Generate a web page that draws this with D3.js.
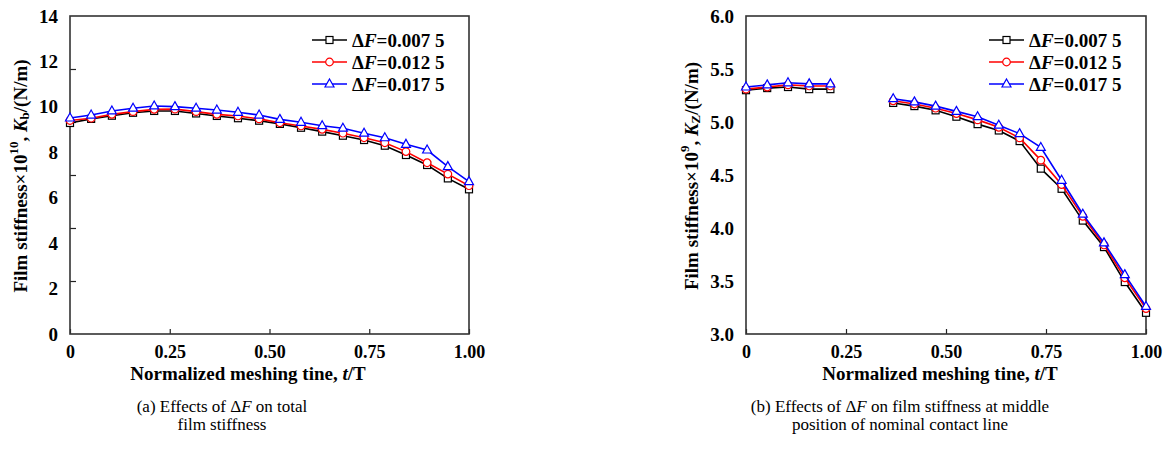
<!DOCTYPE html>
<html>
<head>
<meta charset="utf-8">
<script src="https://cdn.jsdelivr.net/npm/d3@7"></script>
<style>
  body { margin: 0; background: #fff; }
  svg text { font-family: "Liberation Serif", "Times New Roman", serif; }
</style>
</head>
<body>
<svg id="chart" width="1167" height="454"></svg>
<script>
// normalized meshing time t/T (shared by both panels)
const tValues = [0, 0.053, 0.105, 0.158, 0.211, 0.263, 0.316, 0.368, 0.421, 0.474,
                 0.526, 0.579, 0.632, 0.684, 0.737, 0.789, 0.842, 0.895, 0.947, 1.0];

const seriesNames = ["0.007 5", "0.012 5", "0.017 5"];
const seriesColors = ["#000000", "#ff0000", "#0000ff"];
const seriesMarkers = ["square", "circle", "triangle"];

// (a) total film stiffness Kb x 10^10 N/m
const kbDF0075 = [9.29, 9.47, 9.61, 9.74, 9.82, 9.82, 9.71, 9.60, 9.50, 9.39,
                  9.25, 9.08, 8.91, 8.73, 8.54, 8.29, 7.88, 7.44, 6.85, 6.37];
const kbDF0125 = [9.40, 9.50, 9.67, 9.79, 9.89, 9.90, 9.79, 9.67, 9.60, 9.47,
                  9.30, 9.16, 9.01, 8.84, 8.64, 8.42, 8.03, 7.54, 7.04, 6.53];
const kbDF0175 = [9.51, 9.64, 9.82, 9.94, 10.04, 10.01, 9.94, 9.86, 9.76, 9.64,
                  9.45, 9.32, 9.17, 9.06, 8.84, 8.64, 8.35, 8.10, 7.37, 6.71];

// (b) film stiffness at middle of contact line Kz x 10^9 N/m (gap at 0.26-0.32)
const kzDF0075 = [5.30, 5.32, 5.33, 5.31, 5.31, null, null, 5.18, 5.15, 5.11,
                  5.05, 4.98, 4.92, 4.82, 4.56, 4.37, 4.07, 3.82, 3.49, 3.20];
const kzDF0125 = [5.31, 5.33, 5.35, 5.34, 5.34, null, null, 5.20, 5.17, 5.13,
                  5.08, 5.02, 4.95, 4.85, 4.64, 4.41, 4.11, 3.84, 3.53, 3.24];
const kzDF0175 = [5.33, 5.35, 5.37, 5.36, 5.36, null, null, 5.22, 5.19, 5.15,
                  5.10, 5.05, 4.97, 4.89, 4.76, 4.45, 4.13, 3.86, 3.56, 3.26];

const xTickVals = [0, 0.25, 0.5, 0.75, 1.0];
const xTickLabels = ["0", "0.25", "0.50", "0.75", "1.00"];
const kbTickVals = [0, 2, 4, 6, 8, 10, 12, 14];
const kbMarkVals = [2.333, 4.667, 7, 9.333, 11.667];
const kzTickVals = [3.0, 3.5, 4.0, 4.5, 5.0, 5.5, 6.0];

const panels = [
  { left: 70, right: 469, yDomain: [0, 14], yTicks: kbTickVals, yFmt: d3.format("d"),
    yMarks: kbMarkVals, series: [kbDF0075, kbDF0125, kbDF0175],
    exp: "10", sub: "b", titleX: 20, xTitleX: 248,
    legendX: 312, caption: ["(a) Effects of ", " on total", "film stiffness"], captionX: 222 },
  { left: 746, right: 1146, yDomain: [3, 6], yTicks: kzTickVals, yFmt: d3.format(".1f"),
    yMarks: [], series: [kzDF0075, kzDF0125, kzDF0175],
    exp: "9", sub: "Z", titleX: 691, xTitleX: 940,
    legendX: 989, caption: ["(b) Effects of ", " on film stiffness at middle", "position of nominal contact line"], captionX: 900 }
];

const plotTop = 16, plotBottom = 334;
const svg = d3.select("#chart");

function drawMarker(g, type, color) {
    if (type === "square") {
        g.append("rect").attr("x", -3.5).attr("y", -3.5).attr("width", 7).attr("height", 7)
            .attr("fill", "#fff").attr("stroke", color).attr("stroke-width", 1.2);
    } else if (type === "circle") {
        g.append("circle").attr("r", 3.8)
            .attr("fill", "#fff").attr("stroke", color).attr("stroke-width", 1.2);
    } else {
        g.append("path").attr("d", "M0,-5L4.5,3L-4.5,3Z")
            .attr("fill", "#fff").attr("stroke", color).attr("stroke-width", 1.2);
    }
}

panels.forEach(function (p) {
    const x = d3.scaleLinear().domain([0, 1]).range([p.left, p.right]);
    const y = d3.scaleLinear().domain(p.yDomain).range([plotBottom, plotTop]);
    const g = svg.append("g");

    // y tick labels
    g.append("g")
        .attr("transform", `translate(${p.left},0)`)
        .call(d3.axisLeft(y).tickValues(p.yTicks).tickFormat(p.yFmt).tickSize(0).tickPadding(12))
        .call(a => a.select(".domain").remove())
        .selectAll("text")
        .attr("font-size", 19).attr("font-weight", "bold").attr("fill", "#000")
        .style("font-family", "'Liberation Serif', serif");

    // inner y tick marks
    if (p.yMarks.length) {
        g.append("g")
            .attr("transform", `translate(${p.left},0)`)
            .call(d3.axisLeft(y).tickValues(p.yMarks).tickFormat("").tickSizeInner(-6).tickSizeOuter(0))
            .call(a => a.select(".domain").remove())
            .selectAll("line").attr("stroke", "#222").attr("stroke-width", 1.2);
    }

    // x axis
    const xa = g.append("g")
        .attr("transform", `translate(0,${plotBottom})`)
        .call(d3.axisBottom(x).tickValues(xTickVals).tickFormat((d, i) => xTickLabels[i])
            .tickSizeInner(-5).tickSizeOuter(0).tickPadding(11));
    xa.select(".domain").remove();
    xa.selectAll("line").attr("stroke", "#222").attr("stroke-width", 1.2);
    xa.selectAll("text")
        .attr("font-size", 18).attr("font-weight", "bold").attr("fill", "#000")
        .style("font-family", "'Liberation Serif', serif");

    // frame
    g.append("rect")
        .attr("x", p.left).attr("y", plotTop)
        .attr("width", p.right - p.left).attr("height", plotBottom - plotTop)
        .attr("fill", "none").attr("stroke", "#333").attr("stroke-width", 1.6);

    // lines + markers
    const line = d3.line()
        .defined(d => d[1] !== null)
        .x(d => x(d[0]))
        .y(d => y(d[1]));

    p.series.forEach(function (vals, si) {
        const pts = tValues.map((t, i) => [t, vals[i]]);
        g.append("path")
            .datum(pts)
            .attr("fill", "none")
            .attr("stroke", seriesColors[si])
            .attr("stroke-width", 1.6)
            .attr("d", line);
        pts.filter(d => d[1] !== null).forEach(function (d) {
            const m = g.append("g").attr("transform", `translate(${x(d[0])},${y(d[1])})`);
            drawMarker(m, seriesMarkers[si], seriesColors[si]);
        });
    });

    // legend
    seriesNames.forEach(function (name, si) {
        const ly = 40 + si * 22;
        g.append("line")
            .attr("x1", p.legendX).attr("x2", p.legendX + 35)
            .attr("y1", ly).attr("y2", ly)
            .attr("stroke", seriesColors[si]).attr("stroke-width", 1.6);
        const m = g.append("g").attr("transform", `translate(${p.legendX + 17.5},${ly})`);
        drawMarker(m, seriesMarkers[si], seriesColors[si]);
        const t = g.append("text")
            .attr("x", p.legendX + 40).attr("y", ly + 6.5)
            .attr("font-size", 19).attr("font-weight", "bold");
        t.append("tspan").text("Δ");
        t.append("tspan").attr("font-style", "italic").text("F");
        t.append("tspan").text("=" + name);
    });

    // y title
    const yt = g.append("text")
        .attr("transform", `translate(${p.titleX},176) rotate(-90)`)
        .attr("text-anchor", "middle")
        .attr("dominant-baseline", "central")
        .attr("font-size", 19).attr("font-weight", "bold");
    yt.append("tspan").text("Film stiffness×10");
    yt.append("tspan").attr("font-size", 13).attr("dy", -7).text(p.exp);
    yt.append("tspan").attr("dy", 7).text(", ");
    yt.append("tspan").attr("font-style", "italic").text("K");
    yt.append("tspan").attr("font-size", 13).attr("dy", 4).text(p.sub);
    yt.append("tspan").attr("dy", -4).text("/(N/m)");

    // x title
    const xt = g.append("text")
        .attr("x", p.xTitleX).attr("y", 380)
        .attr("text-anchor", "middle")
        .attr("font-size", 19).attr("font-weight", "bold");
    xt.append("tspan").text("Normalized meshing tine, ");
    xt.append("tspan").attr("font-style", "italic").text("t");
    xt.append("tspan").text("/T");

    // caption
    const c1 = g.append("text")
        .attr("x", p.captionX).attr("y", 412)
        .attr("text-anchor", "middle").attr("font-size", 17);
    c1.append("tspan").text(p.caption[0]);
    c1.append("tspan").text("Δ");
    c1.append("tspan").attr("font-style", "italic").text("F");
    c1.append("tspan").text(p.caption[1]);
    g.append("text")
        .attr("x", p.captionX).attr("y", 430)
        .attr("text-anchor", "middle").attr("font-size", 17)
        .text(p.caption[2]);
});
</script>
</body>
</html>
